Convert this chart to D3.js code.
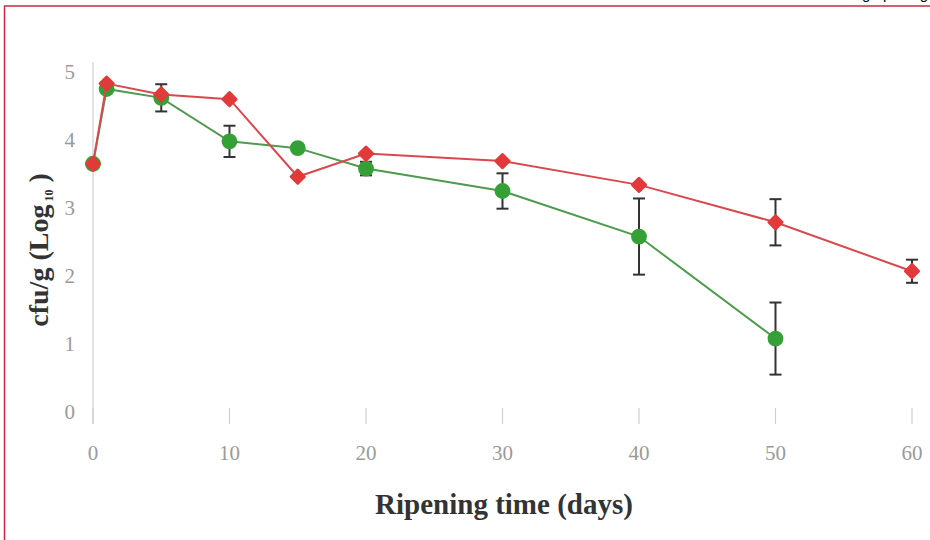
<!DOCTYPE html>
<html>
<head>
<meta charset="utf-8">
<script src="https://cdn.jsdelivr.net/npm/d3@7"></script>
<style>
  body { margin: 0; background: #fff; }
  svg { display: block; }
</style>
</head>
<body>
<svg id="chart" width="930" height="540"></svg>
<script>
// ripening days and log counts
const greenDays = [0, 1, 5, 10, 15, 20, 30, 40, 50];
const greenVals = [3.65, 4.75, 4.62, 3.98, 3.88, 3.58, 3.25, 2.58, 1.08];
const greenErr = [0, 0, 0.2, 0.23, 0, 0.1, 0.26, 0.56, 0.53];
const redDays = [0, 1, 5, 10, 15, 20, 30, 40, 50, 60];
const redVals = [3.65, 4.83, 4.67, 4.6, 3.46, 3.8, 3.69, 3.34, 2.79, 2.07];
const redErr = [0, 0, 0, 0, 0, 0, 0, 0, 0.34, 0.17];
const xTicks = [0, 10, 20, 30, 40, 50, 60];
const yTicks = [0, 1, 2, 3, 4, 5];

const svg = d3.select("#chart");

// page frame
svg.append("line").attr("x1", 4).attr("x2", 930).attr("y1", 6).attr("y2", 6)
  .attr("stroke", "#c8283c").attr("stroke-width", 1.5);
svg.append("line").attr("x1", 4.5).attr("x2", 4.5).attr("y1", 6).attr("y2", 540)
  .attr("stroke", "#c8283c").attr("stroke-width", 1.5);
svg.append("text").attr("x", 928).attr("y", -1).attr("text-anchor", "end")
  .style("font", "15px 'Liberation Sans', Arial, sans-serif").text("during ripening");

const x = d3.scaleLinear().domain([0, 60]).range([93, 912]);
const y = d3.scaleLinear().domain([0, 5]).range([412, 72]);

// y axis
svg.append("line").attr("x1", x(0)).attr("x2", x(0)).attr("y1", 62).attr("y2", 424)
  .attr("stroke", "#cfcfcf").attr("stroke-width", 1.2);
svg.append("g").selectAll("text").data(yTicks).enter().append("text")
  .attr("x", 75).attr("y", d => y(d) + 7)
  .attr("text-anchor", "end")
  .style("font", "21px 'Liberation Serif', 'Times New Roman', serif")
  .attr("fill", "#9a9a9a")
  .text(d => d);

// x ticks
svg.append("g").selectAll("line").data(xTicks).enter().append("line")
  .attr("x1", d => x(d)).attr("x2", d => x(d))
  .attr("y1", 408).attr("y2", 424)
  .attr("stroke", "#cfcfcf").attr("stroke-width", 1.2);
svg.append("g").selectAll("text").data(xTicks).enter().append("text")
  .attr("x", d => x(d)).attr("y", 460)
  .attr("text-anchor", "middle")
  .style("font", "21px 'Liberation Serif', 'Times New Roman', serif")
  .attr("fill", "#9a9a9a")
  .text(d => d);

// axis titles
svg.append("text").attr("x", 504).attr("y", 514).attr("text-anchor", "middle")
  .style("font", "bold 29px 'Liberation Serif', 'Times New Roman', serif")
  .attr("fill", "#333")
  .text("Ripening time (days)");

const yt = svg.append("text")
  .attr("transform", "translate(48,250) rotate(-90)")
  .attr("text-anchor", "middle")
  .style("font", "bold 28px 'Liberation Serif', 'Times New Roman', serif")
  .attr("fill", "#333");
yt.append("tspan").text("cfu/g (Log");
yt.append("tspan").attr("font-size", "12px").attr("dy", 5).text(" 10");
yt.append("tspan").attr("dy", -5).text(" )");

function drawSeries(ds, vs, es, lineColor, fill, marker, size) {
  const pts = ds.map((d, i) => ({ d: d, v: vs[i], e: es[i] }));
  const line = d3.line().x(p => x(p.d)).y(p => y(p.v));
  svg.append("path").datum(pts).attr("d", line)
    .attr("fill", "none").attr("stroke", lineColor).attr("stroke-width", 2);

  const err = svg.append("g").attr("stroke", "#333").attr("stroke-width", 2);
  pts.filter(p => p.e > 0).forEach(p => {
    err.append("line").attr("x1", x(p.d)).attr("x2", x(p.d))
      .attr("y1", y(p.v + p.e)).attr("y2", y(p.v - p.e));
    err.append("line").attr("x1", x(p.d) - 6).attr("x2", x(p.d) + 6)
      .attr("y1", y(p.v + p.e)).attr("y2", y(p.v + p.e));
    err.append("line").attr("x1", x(p.d) - 6).attr("x2", x(p.d) + 6)
      .attr("y1", y(p.v - p.e)).attr("y2", y(p.v - p.e));
  });

  svg.append("g").selectAll("path").data(pts).enter().append("path")
    .attr("transform", p => "translate(" + x(p.d) + "," + y(p.v) + ")")
    .attr("d", d3.symbol().type(marker).size(size))
    .attr("fill", fill).attr("stroke", fill).attr("stroke-width", 3)
    .attr("stroke-linejoin", "round");
}

drawSeries(greenDays, greenVals, greenErr, "#4f9a4f", "#35a035", d3.symbolCircle, 130);
drawSeries(redDays, redVals, redErr, "#d9484e", "#e23a3a", d3.symbolDiamond2, 110);
</script>
</body>
</html>
